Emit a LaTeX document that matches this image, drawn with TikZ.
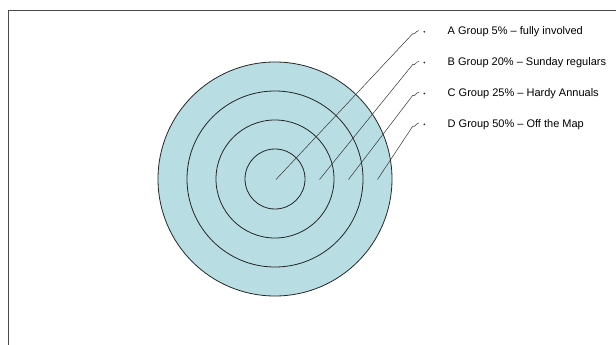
\documentclass[tikz,border=0pt]{standalone}
\usepackage{fontspec}
\setmainfont{Liberation Sans}
\usepackage{xcolor}
\usetikzlibrary{calc,positioning}
\definecolor{ringfill}{HTML}{B8DDE2}
\definecolor{framegray}{HTML}{4A4A4A}

\begin{document}
\begin{tikzpicture}[x=1pt,y=-1pt,line cap=round,line join=round,
  ring/.style={draw=black!85,line width=.8pt},
  leader/.style={draw=black!80,line width=.5pt},
  grp/.style={font=\fontsize{11}{13}\selectfont,anchor=base west,inner sep=0pt},
  dot/.style={circle,fill=black!85,inner sep=0pt,minimum size=1.9pt}]
\useasboundingbox (0,0) rectangle (616,345);
\draw[framegray,line width=1.4pt](8.7,345)--(8.7,10.7)--(616,10.7);
\coordinate (c) at (275,179);
\fill[ringfill] (c) circle[radius=117];
\foreach \r in {117,88,59,30}
  \draw[ring] (c) circle[radius=\r];
% group labels with their bullets
\foreach \n/\y/\t in {A/35/{A Group 5\% -- fully involved},
                     B/65.8/{B Group 20\% -- Sunday regulars},
                     C/96.7/{C Group 25\% -- Hardy Annuals},
                     D/127.5/{D Group 50\% -- Off the Map}}
  {\node[grp] (grp\n) at (447.5,\y) {\t};
   \node[dot] (bul\n) at (424.3,\y-3.2) {};}
% leaders from the rings
\foreach \n/\x in {A/276,B/319.5,C/348.5,D/377.5}
  {\coordinate (tip\n) at (\x,179.5);
   \coordinate (bend\n) at ($(bul\n)+(-11.5,1.8)$);
   \coordinate (end\n) at ($(bul\n)+(-5.5,-1.2)$);
   \draw[leader](tip\n)--(bend\n) to[out=-50,in=180] (end\n);}
\end{tikzpicture}
\end{document}
